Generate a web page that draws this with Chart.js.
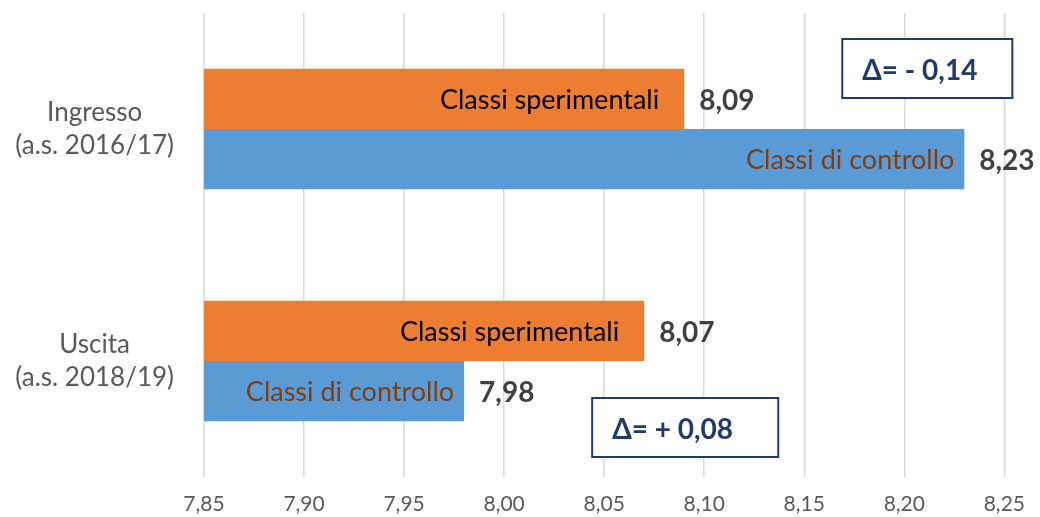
<!DOCTYPE html>
<html lang="it">
<head>
    <meta charset="UTF-8">
    <title>Classi sperimentali e di controllo</title>
    <script src="https://cdn.jsdelivr.net/npm/chart.js"></script>
    <style>
        body {
            margin: 0;
            padding: 0;
            background: #ffffff;
        }
        .chart-container {
            position: relative;
            width: 1040px;
            height: 517px;
        }
    </style>
</head>
<body>
    <div class="chart-container">
        <canvas id="grafico"></canvas>
    </div>
    <script>
        // Dati
        const categorie = [['Ingresso', '(a.s. 2016/17)'], ['Uscita', '(a.s. 2018/19)']];
        const nomiSerie = ['Classi sperimentali', 'Classi di controllo'];
        const sperimentali = [8.09, 8.07];
        const controllo = [8.23, 7.98];
        const delta = ['Δ= - 0,14', 'Δ= + 0,08'];
        const tickMin = 7.85;
        const tickMax = 8.25;
        const tickStep = 0.05;

        const FONT = 'Lato, "Open Sans", sans-serif';
        const fmt = v => v.toFixed(2).replace('.', ',');

        // Etichette dentro e accanto alle barre, e i riquadri con il delta
        const etichette = {
            id: 'etichette',
            afterDatasetsDraw(chart) {
                const ctx = chart.ctx;
                const x = chart.scales.x;
                const y = chart.scales.y;
                ctx.save();
                chart.data.datasets.forEach((ds, i) => {
                    const meta = chart.getDatasetMeta(i);
                    meta.data.forEach((bar, j) => {
                        // nome della serie dentro la barra
                        ctx.font = '27px ' + FONT;
                        ctx.fillStyle = ds.innerColor;
                        ctx.textAlign = 'right';
                        ctx.textBaseline = 'middle';
                        ctx.fillText(ds.label, bar.x - ds.innerPad, bar.y + 1);
                        // valore accanto alla barra
                        ctx.font = 'bold 28px ' + FONT;
                        ctx.fillStyle = '#404040';
                        ctx.textAlign = 'left';
                        ctx.fillText(fmt(ds.data[j]), bar.x + 15, bar.y + 2);
                    });
                });
                // riquadri delta (posizione: valori sull'asse x, scarto dal centro categoria)
                const riquadri = [
                    { x0: 8.169, x1: 8.254, dy0: -90, dy1: -31 },
                    { x0: 8.044, x1: 8.137, dy0: 37, dy1: 96 }
                ];
                riquadri.forEach((r, k) => {
                    const cy = y.getPixelForValue(k);
                    const l = x.getPixelForValue(r.x0);
                    const rr = x.getPixelForValue(r.x1);
                    const t = cy + r.dy0;
                    const b = cy + r.dy1;
                    ctx.fillStyle = '#ffffff';
                    ctx.fillRect(l, t, rr - l, b - t);
                    ctx.strokeStyle = '#1F3B6B';
                    ctx.lineWidth = 2;
                    ctx.strokeRect(l, t, rr - l, b - t);
                    ctx.font = 'bold 28px ' + FONT;
                    ctx.fillStyle = '#1F3B6B';
                    ctx.textAlign = 'left';
                    ctx.textBaseline = 'middle';
                    ctx.fillText(delta[k], l + 20, (t + b) / 2 + 2);
                });
                ctx.restore();
            }
        };

        const ctx = document.getElementById('grafico').getContext('2d');
        const grafico = new Chart(ctx, {
            type: 'bar',
            data: {
                labels: categorie,
                datasets: [{
                    label: nomiSerie[0],
                    data: sperimentali,
                    backgroundColor: '#ED7D31',
                    innerColor: '#000000',
                    innerPad: 25
                }, {
                    label: nomiSerie[1],
                    data: controllo,
                    backgroundColor: '#5B9BD5',
                    innerColor: '#843C0C',
                    innerPad: 10
                }]
            },
            options: {
                indexAxis: 'y',
                responsive: true,
                maintainAspectRatio: false,
                animation: false,
                categoryPercentage: 0.52,
                barPercentage: 1.0,
                layout: {
                    padding: { top: 13, right: 30, left: 0, bottom: 0 }
                },
                plugins: {
                    legend: { display: false },
                    tooltip: { enabled: false }
                },
                scales: {
                    x: {
                        min: tickMin,
                        max: tickMax,
                        border: { display: false },
                        grid: {
                            color: '#D9D9D9',
                            lineWidth: 1.5,
                            drawTicks: false
                        },
                        ticks: {
                            stepSize: tickStep,
                            padding: 15,
                            color: '#595959',
                            font: { family: FONT, size: 21 },
                            callback: v => fmt(v)
                        },
                        afterFit(scale) { scale.height = 40; }
                    },
                    y: {
                        border: { display: false },
                        grid: { display: false, drawTicks: false },
                        ticks: {
                            crossAlign: 'center',
                            padding: 30,
                            color: '#595959',
                            font: { family: FONT, size: 26, lineHeight: 1.27 }
                        },
                        afterFit(scale) {
                            scale.width = 204;
                            scale.paddingTop = 0;
                            scale.paddingBottom = 0;
                        }
                    }
                }
            },
            plugins: [etichette]
        });
    </script>
</body>
</html>
